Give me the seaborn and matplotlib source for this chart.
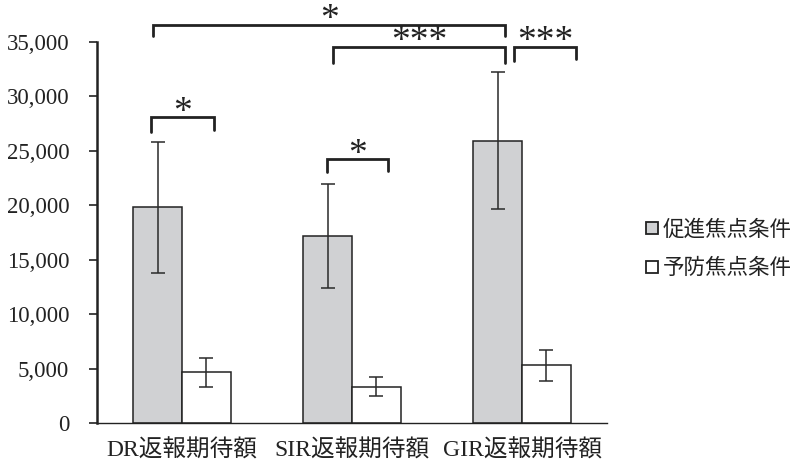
import matplotlib
matplotlib.use("Agg")
import matplotlib.pyplot as plt
import seaborn as sns
import pandas as pd
import numpy as np
from matplotlib.lines import Line2D

categories = ["DR返報期待額", "SIR返報期待額", "GIR返報期待額"]
conditions = ["促進焦点条件", "予防焦点条件"]
promotion_mean = [19800, 17200, 25950]
promotion_err = [6000, 4800, 6300]
prevention_mean = [4650, 3330, 5300]
prevention_err = [1300, 850, 1450]
yticks = [0, 5000, 10000, 15000, 20000, 25000, 30000, 35000]

# significance annotations: (x_left, x_right, y_line, leg_left, leg_right, label)
brackets = [
    (-0.18, 0.19, 28100, 1350, 1200, "*"),
    (0.85, 1.21, 24250, 1200, 1100, "*"),
    (-0.17, 1.90, 36600, 1050, 1050, "*"),
    (0.89, 1.90, 34550, 1500, 1500, "***"),
    (1.95, 2.32, 34550, 1250, 1150, "***"),
]

df = pd.DataFrame({
    "category": categories * 2,
    "condition": [conditions[0]] * 3 + [conditions[1]] * 3,
    "value": promotion_mean + prevention_mean,
    "err": promotion_err + prevention_err,
})

sns.set_theme(style="white")
plt.rcParams["font.family"] = ["Liberation Serif", "Noto Sans CJK JP", "DejaVu Sans"]

fig = plt.figure(figsize=(8.02, 4.68), dpi=100)
ax = fig.add_axes([97 / 802, 1 - 423 / 468, 510 / 802, 381 / 468])

palette = {conditions[0]: "#d0d1d3", conditions[1]: "#ffffff"}
sns.barplot(data=df, x="category", y="value", hue="condition", order=categories,
            hue_order=conditions, palette=palette, width=0.576, gap=0,
            edgecolor="#222222", linewidth=1.1, errorbar=None, ax=ax, legend=False)

# error bars from bar patches
bars = ax.patches
means = promotion_mean + prevention_mean
errs = promotion_err + prevention_err
for p, m, e in zip(bars, means, errs):
    xc = p.get_x() + p.get_width() / 2
    ax.errorbar(xc, m, yerr=e, color="#2a2a2a", elinewidth=1.1, capsize=5,
                capthick=1.1, zorder=5)

for xl, xr, yl, ll, lr, lab in brackets:
    ax.plot([xl, xl, xr, xr], [yl - ll, yl, yl, yl - lr], color="#222222",
            lw=2.0, clip_on=False, solid_joinstyle="miter", zorder=6)
    ax.annotate(lab, xy=((xl + xr) / 2, yl), xytext=(0, -9), textcoords="offset points",
                ha="center", va="bottom", fontsize=27, family="Liberation Serif",
                color="#222222", annotation_clip=False)

ax.set_xlim(-0.5, 2.5)
ax.set_ylim(0, 35000)
ax.set_yticks(yticks)
ax.set_yticklabels([f"{v:,}" for v in yticks], fontsize=16.5)
ax.set_xticks(range(3))
ax.set_xticklabels(categories, fontsize=17,
                   family=["Liberation Serif", "Noto Sans CJK JP"])
ax.set_xlabel("")
ax.set_ylabel("")
ax.tick_params(axis="y", direction="out", length=6, width=1.2, color="#222222",
               pad=14, left=True, labelcolor="#222222")
ax.tick_params(axis="x", length=0, pad=12, labelcolor="#222222")
for s in ["top", "right"]:
    ax.spines[s].set_visible(False)
ax.spines["left"].set_color("#222222")
ax.spines["left"].set_linewidth(1.8)
ax.spines["bottom"].set_color("#222222")
ax.spines["bottom"].set_linewidth(1.0)

handles = [Line2D([0], [0], marker="s", linestyle="", markersize=8.5,
                  markerfacecolor=palette[c], markeredgecolor="#222222",
                  markeredgewidth=1.3) for c in conditions]
fig.legend(handles, conditions, loc="center left", bbox_to_anchor=(622 / 802, 1 - 249 / 468),
           frameon=False, handletextpad=0.0, handlelength=1.0, labelspacing=0.75,
           prop={"family": ["Noto Sans CJK JP"], "size": 15.5}, labelcolor="#222222")

fig.savefig("out.png", dpi=100)
